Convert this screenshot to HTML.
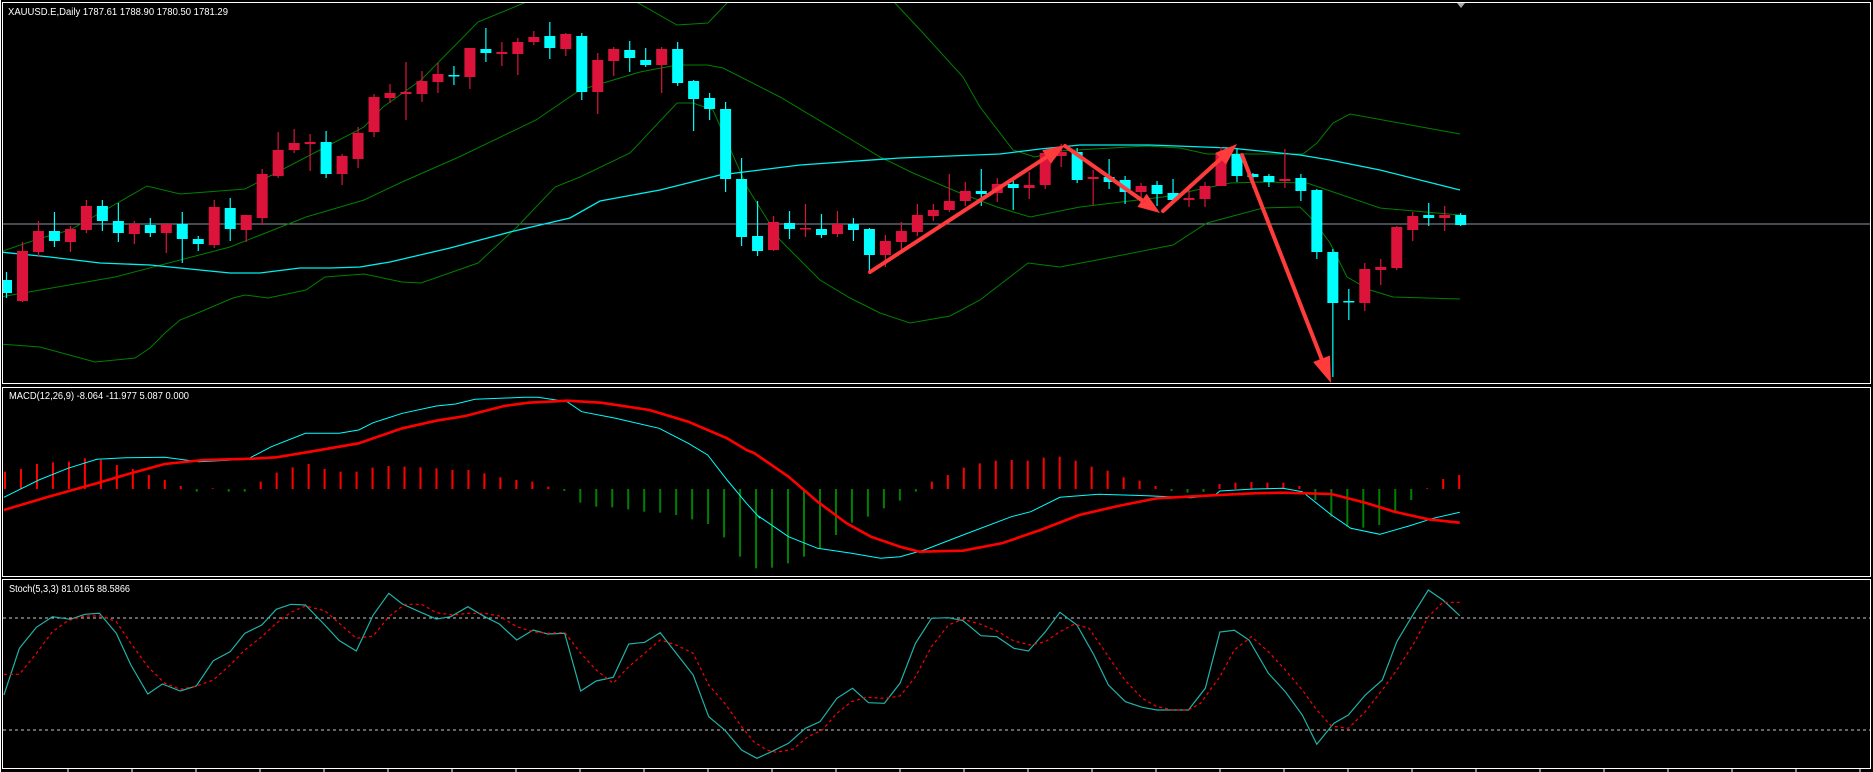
<!DOCTYPE html>
<html><head><meta charset="utf-8"><style>
html,body{margin:0;padding:0;background:#000;width:1873px;height:772px;overflow:hidden}
svg{display:block}
text{font-family:"Liberation Sans",sans-serif;fill:#fff}
</style></head><body>
<svg id="s" width="1873" height="772" viewBox="0 0 1873 772" xmlns="http://www.w3.org/2000/svg">
<rect width="1873" height="772" fill="#000"/>
<g id="g"></g>
<text x="8" y="15" font-size="10" textLength="220" lengthAdjust="spacingAndGlyphs">XAUUSD.E,Daily  1787.61 1788.90 1780.50 1781.29</text>
<text x="9" y="399" font-size="10" textLength="180" lengthAdjust="spacingAndGlyphs">MACD(12,26,9) -8.064 -11.977 5.087 0.000</text>
<text x="9" y="592" font-size="10" textLength="121" lengthAdjust="spacingAndGlyphs">Stoch(5,3,3) 81.0165 88.5866</text>
</svg>
<script>
var o='';
function X(n){return 6.5+(n-1)*15.98;}
function pl(pts,col,w,extra){o+='<polyline fill="none" stroke="'+col+'" stroke-width="'+w+'" '+(extra||'')+' points="'+pts.map(function(p){return p[0]+','+p[1]}).join(' ')+'"/>';}
function Z5(a){return a.map(function(p){return [+(p[0]/2.063).toFixed(1),+(380+p[1]/3).toFixed(1)]});}
function Z6(a){return a.map(function(p){return [+(740+p[0]/2.063).toFixed(1),+(380+p[1]/3).toFixed(1)]});}
function Z7(a){return a.map(function(p){return [+(p[0]/2.063).toFixed(1),+(570+p[1]/3).toFixed(1)]});}
function Z8(a){return a.map(function(p){return [+(740+p[0]/2.063).toFixed(1),+(570+p[1]/3).toFixed(1)]});}
o+='<defs><clipPath id="cm"><rect x="3" y="3" width="1867" height="380"/></clipPath><clipPath id="cs"><rect x="3" y="580" width="1867" height="188"/></clipPath></defs>';
o+='<g clip-path="url(#cm)">';
o+='<line x1="3" y1="224" x2="1870" y2="224" stroke="#8a96a3" stroke-width="1"/>';
var up=[[0,252],[38,239],[70,230],[100,213],[147,186],[180,194],[245,189],[268,177],[364,127],[383,107],[421,80],[478,22],[524,3],[560,-12],[610,-12],[633,0],[677,25],[708,23],[727,3],[760,-30],[860,-30],[895,3],[923,33],[963,77],[980,107],[1013,150],[1035,157],[1060,151],[1147,146],[1180,148],[1207,154],[1303,154],[1317,143],[1333,123],[1350,114],[1460,134]];
var mid=[[0,297],[115,277],[230,247],[306,217],[364,200],[402,182],[459,157],[536,120],[580,90],[640,72],[677,65],[707,65],[723,68],[780,97],[847,137],[880,157],[913,173],[960,193],[997,207],[1030,217],[1080,207],[1163,197],[1230,183],[1263,182],[1307,183],[1380,208],[1460,215]];
var lo=[[0,344],[40,347],[95,362],[135,358],[150,348],[165,333],[180,320],[200,312],[233,298],[245,295],[268,298],[306,290],[325,277],[364,274],[402,282],[421,283],[478,263],[517,227],[555,187],[580,177],[630,153],[677,103],[693,103],[713,110],[747,187],[780,240],[820,280],[850,298],[880,313],[910,323],[950,316],[980,300],[1028,263],[1060,267],[1097,260],[1173,245],[1207,223],[1263,208],[1300,207],[1313,220],[1330,243],[1347,277],[1370,290],[1393,297],[1460,299]];
pl(up,'#008000',1);pl(mid,'#008000',1);pl(lo,'#008000',1);
var ma=[[0,252],[50,257],[100,263],[150,265],[200,270],[230,273],[260,273],[300,268],[330,268],[360,267],[390,262],[420,255],[450,248],[480,240],[510,232],[540,225],[570,218],[600,201],[660,190],[720,175],[800,165],[900,158],[1000,154],[1040,149],[1080,145],[1150,145],[1230,148],[1300,155],[1330,160],[1380,170],[1460,190]];
pl(ma,'#00f0f0',1.3);
var C=[
[1,'c',280,293,272,298],[2,'r',251,301,242,302],[3,'r',231,252,221,257],[4,'c',231,241,212,247],[5,'r',229,242,226,252],[6,'r',206,230,200,233],[7,'c',206,221,200,231],[8,'c',221,233,203,242],[9,'r',224,234,221,244],[10,'c',225,233,218,237],[11,'r',224,233,223,253],[12,'c',224,239,212,263],[13,'c',239,244,236,251],[14,'r',207,245,200,248],[15,'c',208,229,198,241],[16,'r',215,230,215,242],[17,'r',174,218,169,225],[18,'r',150,176,132,178],[19,'r',143,150,129,153],[20,'r',142,144,134,171],[21,'c',142,174,131,178],[22,'r',156,174,154,185],[23,'r',133,159,127,168],[24,'r',97,132,94,137],[25,'r',93,98,84,103],[26,'r',92,94,62,120],[27,'r',81,94,71,102],[28,'r',74,82,63,93],[29,'c',75,76,66,85],[30,'r',48,77,48,89],[31,'c',49,53,28,62],[32,'r',52,54,42,66],[33,'r',42,54,38,75],[34,'r',37,42,31,45],[35,'c',36,48,22,59],[36,'r',34,49,33,56],[37,'c',36,92,33,100],[38,'r',60,92,53,114],
[39,'r',49,61,47,76],[40,'c',50,58,41,72],[41,'c',60,65,48,67],[42,'r',49,65,47,93],[43,'c',49,83,42,86],[44,'c',81,99,80,131],[45,'c',98,109,93,120],[46,'c',109,179,102,192],[47,'c',179,237,158,246],[48,'c',236,251,201,256],[49,'r',222,250,216,251],[50,'c',223,229,211,239],[51,'r',228,229,204,237],[52,'c',229,235,214,238],[53,'r',224,234,211,237],[54,'c',224,230,218,241],[55,'c',229,255,228,271],[56,'r',241,255,235,267],[57,'r',231,242,222,249],[58,'r',215,232,204,236],[59,'r',210,216,204,221],[60,'r',201,210,174,212],[61,'r',191,201,182,206],[62,'c',191,194,169,206],[63,'r',184,193,178,202],[64,'c',184,188,179,210],[65,'r',185,188,172,199],
[66,'r',153,185,150,189],[67,'r',152,156,144,167],[68,'c',152,180,148,183],[69,'r',177,179,170,205],[70,'c',177,182,159,189],[71,'c',180,192,176,204],[72,'r',186,192,183,207],[73,'c',185,194,181,206],[74,'c',193,200,179,200],[75,'r',198,200,190,207],[76,'r',186,199,182,207],[77,'r',153,186,147,186],[78,'c',154,176,148,182],[79,'c',174,177,173,188],[80,'c',176,182,174,187],[81,'r',179,181,149,188],[82,'c',178,191,174,201],[83,'c',190,252,189,259],[84,'c',252,303,249,377],[85,'c',301,302,289,320],[86,'r',269,303,263,311],[87,'r',267,270,259,285],[88,'r',227,268,226,270],[89,'r',216,230,212,241],[90,'c',215,218,203,226],[91,'r',215,218,206,231],[92,'c',215,225,213,226]];
C.forEach(function(c){var x=X(c[0]);var col=c[1]=='r'?'#dc143c':'#00ffff';
o+='<line x1="'+x+'" y1="'+c[4]+'" x2="'+x+'" y2="'+c[5]+'" stroke="'+col+'" stroke-width="1.2"/>';
var h=Math.max(c[3]-c[2],1.5);
o+='<rect x="'+(x-5.5)+'" y="'+c[2]+'" width="11" height="'+h+'" fill="'+col+'"/>';});
function arrow(x1,y1,x2,y2,hl,hw){var dx=x2-x1,dy=y2-y1,L=Math.sqrt(dx*dx+dy*dy),ux=dx/L,uy=dy/L,px=-uy,py=ux;
var bx=x2-ux*hl,by=y2-uy*hl;
o+='<line x1="'+x1+'" y1="'+y1+'" x2="'+bx+'" y2="'+by+'" stroke="#ff3b3b" stroke-width="4" stroke-linecap="round"/>';
o+='<polygon fill="#ff3b3b" points="'+x2+','+y2+' '+(bx+px*hw)+','+(by+py*hw)+' '+(bx-px*hw)+','+(by-py*hw)+'"/>';}
arrow(870,272,1065,145,22,8);arrow(1065,146,1160,213,22,8);arrow(1163,211,1237,144,22,8);arrow(1242,155,1331,383,26,9);
o+='</g>';
o+='<polygon points="1457,3 1465,3 1461,8" fill="#aaa"/>';
var hist=[52,60,75,80,82,92,87,72,60,42,27,9,-8,1,-8,-8,22,49,65,75,60,52,52,64,69,67,65,62,57,57,47,35,27,22,7,-6,-41,-53,-55,-61,-68,-71,-78,-91,-105,-145,-203,-238,-236,-223,-203,-178,-138,-101,-83,-58,-35,-8,22,42,64,77,85,87,85,94,97,85,67,55,35,25,9,-6,-11,-9,15,19,21,19,19,9,-33,-83,-113,-116,-108,-71,-33,1,30,42];
hist.forEach(function(v,i){var x=X(i+1)-1.5;var z=489;var h=v/3;
if(Math.abs(h)<0.7)h=h<0?-0.7:0.7;
var col=v>=0?'#ff0000':'#008000';
o+='<rect x="'+(x-1)+'" y="'+(h>0?z-h:z)+'" width="2" height="'+Math.abs(h)+'" fill="'+col+'"/>';});
pl(Z5([[8,352],[80,300],[140,265],[200,238],[260,233],[340,232],[410,245],[510,238],[560,200],[630,160],[700,160],[740,150],[770,128],[830,100],[900,78],[940,72],[980,58],[1080,52],[1110,52],[1170,65],[1200,95],[1270,115],[1360,145],[1420,190],[1460,225],[1500,300],[1540,370],[1568,415]]).concat(Z6([[40,410],[100,470],[160,505],[230,520],[290,535],[330,530],[380,510],[460,465],[560,410],[600,395],[660,352],[740,343],[840,347],[930,353],[980,345],[990,333],[1060,327],[1120,325],[1160,335],[1220,405],[1260,445],[1320,463],[1380,438],[1430,415],[1485,397]])),'#00ffff',1);
pl(Z5([[8,390],[100,350],[200,310],[270,280],[340,252],[420,240],[520,236],[570,232],[640,215],[740,190],[830,145],[900,122],[960,108],[1040,78],[1090,68],[1170,62],[1240,68],[1340,90],[1420,125],[1500,175],[1540,210]]).concat(Z6([[30,220],[100,290],[160,365],[220,430],[270,470],[330,500],[370,515],[460,512],[540,490],[620,450],[700,405],[780,378],[860,355],[960,347],[1060,340],[1120,338],[1220,342],[1290,368],[1350,395],[1420,418],[1485,428]])),'#ff0000',2.6);
o+='<line x1="3" y1="618" x2="1870" y2="618" stroke="#c8c8c8" stroke-width="1" stroke-dasharray="3,3"/>';
o+='<line x1="3" y1="730" x2="1870" y2="730" stroke="#c8c8c8" stroke-width="1" stroke-dasharray="3,3"/>';
o+='<g clip-path="url(#cs)">';
pl(Z7([[8,375],[40,235],[75,172],[108,140],[145,148],[175,133],[205,130],[240,190],[270,285],[305,372],[335,342],[372,363],[405,348],[440,272],[475,245],[505,190],[540,165],[570,118],[600,103],[630,105],[670,165],[700,212],[735,243],[770,135],[802,70],[830,102],[870,128],[900,147],[930,140],[965,110],[1000,140],[1030,162],[1066,210],[1100,180],[1130,192],[1165,190],[1198,363],[1230,333],[1265,322],[1297,222],[1330,217],[1362,188],[1395,250],[1430,315],[1462,440],[1495,480],[1530,540],[1555,560]]).concat(Z8([[35,565],[65,545],[100,520],[135,475],[165,455],[200,385],[232,355],[265,398],[298,400],[330,340],[362,220],[395,145],[430,143],[460,152],[497,197],[530,200],[565,235],[595,243],[630,185],[660,127],[695,165],[730,255],[760,345],[795,395],[830,412],[860,420],[925,420],[960,355],[990,186],[1020,181],[1050,210],[1090,310],[1125,365],[1160,435],[1190,523],[1225,460],[1255,435],[1290,375],[1325,330],[1355,215],[1390,130],[1420,60],[1450,90],[1485,137]])),'#20b2aa',1.2);
pl(Z7([[8,313],[40,313],[75,250],[108,185],[140,152],[175,138],[210,138],[240,155],[270,220],[305,290],[340,340],[372,358],[405,348],[440,330],[475,285],[505,240],[540,200],[570,160],[600,127],[630,108],[670,122],[700,160],[735,205],[770,198],[802,140],[835,103],[870,103],[900,128],[935,135],[965,130],[1000,130],[1030,138],[1066,170],[1100,185],[1130,190],[1165,187],[1198,250],[1230,300],[1265,340],[1297,290],[1330,250],[1362,210],[1395,225],[1430,250],[1462,345],[1495,400],[1530,470],[1555,515]]).concat(Z8([[55,540],[75,547],[110,537],[140,500],[170,480],[200,430],[230,395],[260,382],[300,385],[330,378],[362,320],[395,230],[430,165],[460,148],[497,163],[530,183],[565,213],[600,225],[630,215],[660,185],[690,162],[720,175],[760,260],[795,332],[830,385],[860,410],[895,420],[925,420],[950,400],[990,320],[1020,240],[1055,200],[1090,245],[1125,300],[1160,360],[1190,420],[1220,468],[1255,475],[1290,425],[1330,350],[1355,300],[1390,220],[1420,140],[1450,97],[1485,97]])),'#ff0000',1.2,'stroke-dasharray="3,3"');
o+='</g>';
function bx(y1,y2){o+='<rect x="2.5" y="'+y1+'" width="1868" height="'+(y2-y1)+'" fill="none" stroke="#fff" stroke-width="1"/>';}
bx(2.5,383.5);bx(387.5,576.5);bx(579.5,768.5);
o+='<line x1="0.5" y1="0" x2="0.5" y2="772" stroke="#fff" stroke-width="1"/>';
for(var t=68;t<1870;t+=64){o+='<line x1="'+t+'" y1="768" x2="'+t+'" y2="772" stroke="#fff" stroke-width="1"/>';}
document.getElementById('g').innerHTML=o;
</script>
</body></html>
